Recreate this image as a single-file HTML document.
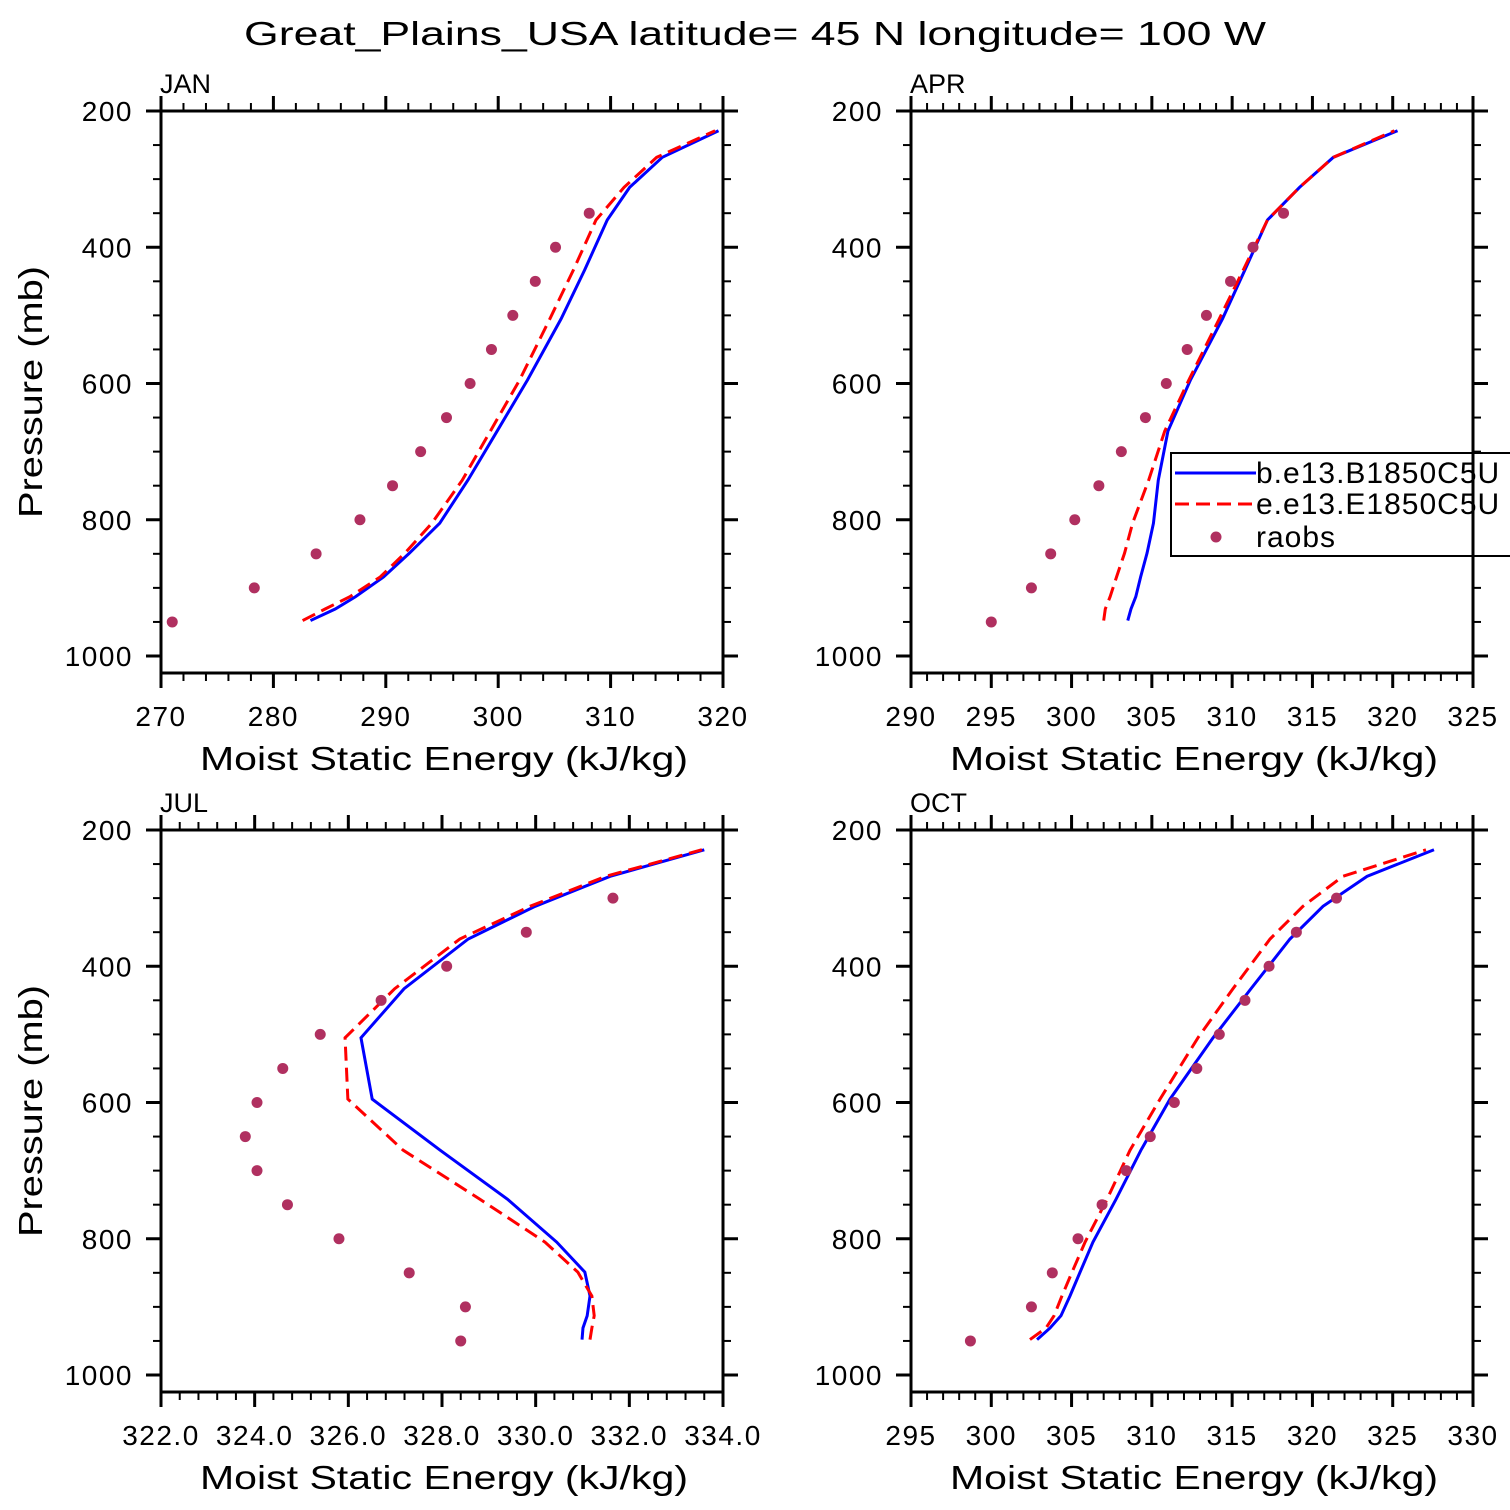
<!DOCTYPE html>
<html><head><meta charset="utf-8"><style>
html,body{margin:0;padding:0;background:#fff;}
svg{display:block;font-family:"Liberation Sans",sans-serif;}
</style></head><body>
<svg id="chart" width="1510" height="1510" viewBox="0 0 1510 1510" xmlns="http://www.w3.org/2000/svg">
<rect width="1510" height="1510" fill="#fff"/>
<text x="755" y="45" text-anchor="middle" font-size="33" textLength="1022" lengthAdjust="spacingAndGlyphs" fill="#000">Great_Plains_USA  latitude= 45 N longitude= 100 W</text>
</svg>
<script>
const levels = [948,931,913,884,849,805,742,670,595,505,433,360,312,268,229];
const obsLevels = [950,900,850,800,750,700,650,600,550,500,450,400,350,300];
const janBlue = [283.3,285.5,287.3,289.8,292.1,294.8,297.3,299.9,302.6,305.6,307.7,309.7,311.7,314.6,319.6];
const janRed = [282.6,284.6,286.8,289.5,291.7,294.1,296.8,299.3,301.9,304.6,306.7,308.7,311.2,314.1,319.3];
const janObs = [271.0,278.3,283.8,287.7,290.6,293.1,295.4,297.5,299.4,301.3,303.3,305.1,308.1];
const aprBlue = [303.5,303.7,304.0,304.3,304.7,305.1,305.4,306.0,307.4,309.4,310.8,312.2,314.2,316.3,320.3];
const aprRed = [302.0,302.1,302.4,302.8,303.3,303.8,304.8,305.8,307.3,309.2,310.7,312.2,314.2,316.3,320.1];
const aprObs = [295.0,297.5,298.7,300.2,301.7,303.1,304.6,305.9,307.2,308.4,309.9,311.3,313.2];
const julBlue = [330.99,331.01,331.10,331.16,331.05,330.45,329.40,327.96,326.51,326.27,327.19,328.56,329.99,331.59,333.60];
const julRed = [331.16,331.20,331.25,331.20,330.90,330.20,328.81,327.17,325.99,325.93,326.99,328.38,329.88,331.50,333.55];
const julObs = [328.4,328.5,327.3,325.8,324.7,324.05,323.8,324.05,324.6,325.4,326.7,328.1,329.8,331.65];
const octBlue = [302.85,303.66,304.34,304.90,305.53,306.33,307.77,309.32,311.13,313.81,316.17,318.60,320.66,323.40,327.57];
const octRed = [302.41,303.41,303.91,304.40,305.03,305.84,307.21,308.64,310.51,312.87,315.05,317.36,319.41,321.90,327.07];
const octObs = [298.7,302.5,303.8,305.4,306.9,308.4,309.9,311.4,312.8,314.2,315.8,317.3,319.0,321.5];
const pTicks = [200,400,600,800,1000];

const NS = "http://www.w3.org/2000/svg";
const svg = document.getElementById('chart');
function mk(tag, attrs, parent){
  const e = document.createElementNS(NS, tag);
  for (const k in attrs) e.setAttribute(k, attrs[k]);
  (parent||svg).appendChild(e);
  return e;
}
const panels = [
  {name:'jan', label:'JAN', x0:161, y0:111, xmin:270, xmax:320, major:10, minorN:5, dec:0, blue:janBlue, red:janRed, obs:janObs},
  {name:'apr', label:'APR', x0:911, y0:111, xmin:290, xmax:325, major:5, minorN:5, dec:0, blue:aprBlue, red:aprRed, obs:aprObs},
  {name:'jul', label:'JUL', x0:161, y0:830, xmin:322, xmax:334, major:2, minorN:5, dec:1, blue:julBlue, red:julRed, obs:julObs},
  {name:'oct', label:'OCT', x0:911, y0:830, xmin:295, xmax:330, major:5, minorN:5, dec:0, blue:octBlue, red:octRed, obs:octObs}
];
const W = 562;
panels.forEach(P => {
  const g = mk('g', {});
  
  
  const sx = v => P.x0 + (v - P.xmin) / (P.xmax - P.xmin) * W;
  const sy = p => P.y0 + (p - 200) * 0.68125;
  const box = mk('rect', {x:P.x0, y:P.y0, width:W, height:W, fill:'none', stroke:'#000', 'stroke-width':3}, g);
  
  
  for (let p = 200; p <= 1000; p += 50) {
    const y = sy(p), maj = (p % 200 === 0), L = maj ? 15 : 8;
    mk('line', {x1:P.x0 - L, x2:P.x0, y1:y, y2:y, stroke:'#000', 'stroke-width':maj?3:2}, g);
    mk('line', {x1:P.x0 + W, x2:P.x0 + W + L, y1:y, y2:y, stroke:'#000', 'stroke-width':maj?3:2}, g);
  }
  pTicks.forEach(p => {
    const t = mk('text', {x:P.x0 - 28, y:sy(p) + 10, 'text-anchor':'end', 'font-size':28, 'letter-spacing':1.5, fill:'#000'}, g);
    
    
    t.textContent = p;
  });
  const step = P.major / P.minorN;
  const n = Math.round((P.xmax - P.xmin) / step);
  for (let i = 0; i <= n; i++) {
    const v = P.xmin + i * step, x = sx(v), maj = (i % P.minorN === 0), L = maj ? 15 : 8;
    mk('line', {x1:x, x2:x, y1:P.y0 + W, y2:P.y0 + W + L, stroke:'#000', 'stroke-width':maj?3:2}, g);
    mk('line', {x1:x, x2:x, y1:P.y0 - L, y2:P.y0, stroke:'#000', 'stroke-width':maj?3:2}, g);
    if (maj) {
      const t = mk('text', {x:x, y:P.y0 + W + 53, 'text-anchor':'middle', 'font-size':28, 'letter-spacing':1.5, fill:'#000'}, g);
      
      
      t.textContent = v.toFixed(P.dec);
    }
  }
  const xt = mk('text', {x:P.x0 + W/2 + 2, y:P.y0 + W + 97, 'text-anchor':'middle', 'font-size':33, textLength:488, lengthAdjust:'spacingAndGlyphs', fill:'#000'}, g);
  
  
  xt.textContent = 'Moist Static Energy (kJ/kg)';
  if (P.x0 < 500) {
    const cy = P.y0 + 281;
    const yt = mk('text', {x:42, y:cy, transform:'rotate(-90 42 '+cy+')', 'text-anchor':'middle', 'font-size':33, textLength:252, lengthAdjust:'spacingAndGlyphs', fill:'#000'}, g);
    
    
    yt.textContent = 'Pressure (mb)';
  }
  const lab = mk('text', {x:P.x0 - 1, y:P.y0 - 18, 'font-size':27, fill:'#000'}, g);
  
  
  lab.textContent = P.label;
  const bl = mk('polyline', {points:P.blue.map((v,i)=>sx(v)+','+sy(levels[i])).join(' '), fill:'none', stroke:'#0000ff', 'stroke-width':3}, g);
  
  
  const rl = mk('polyline', {points:P.red.map((v,i)=>sx(v)+','+sy(levels[i])).join(' '), fill:'none', stroke:'#ff0000', 'stroke-width':3, 'stroke-dasharray':'14,7'}, g);
  
  
  P.obs.forEach((v,i) => {
    const c = mk('circle', {cx:sx(v), cy:sy(obsLevels[i]), r:5.5, fill:'#b03060'}, g);
    
    
  });
});
const lg = mk('g', {});


mk('rect', {x:1171, y:453, width:345, height:103, fill:'#fff', stroke:'#000', 'stroke-width':2}, lg);
mk('line', {x1:1175, x2:1256, y1:473, y2:473, stroke:'#0000ff', 'stroke-width':3}, lg);
mk('line', {x1:1175, x2:1256, y1:504, y2:504, stroke:'#ff0000', 'stroke-width':3, 'stroke-dasharray':'14,7'}, lg);
mk('circle', {cx:1216, cy:537, r:5.5, fill:'#b03060'}, lg);
const lt = [['b.e13.B1850C5U',483],['e.e13.E1850C5U',514],['raobs',547]];
lt.forEach(a => {
  const t = mk('text', {x:1256, y:a[1], 'font-size':30, 'letter-spacing':1, fill:'#000'}, lg);
  
  
  t.textContent = a[0];
});
mk('line', {x1:1473, x2:1473, y1:440, y2:570, stroke:'#000', 'stroke-width':3});
</script>
</body></html>
